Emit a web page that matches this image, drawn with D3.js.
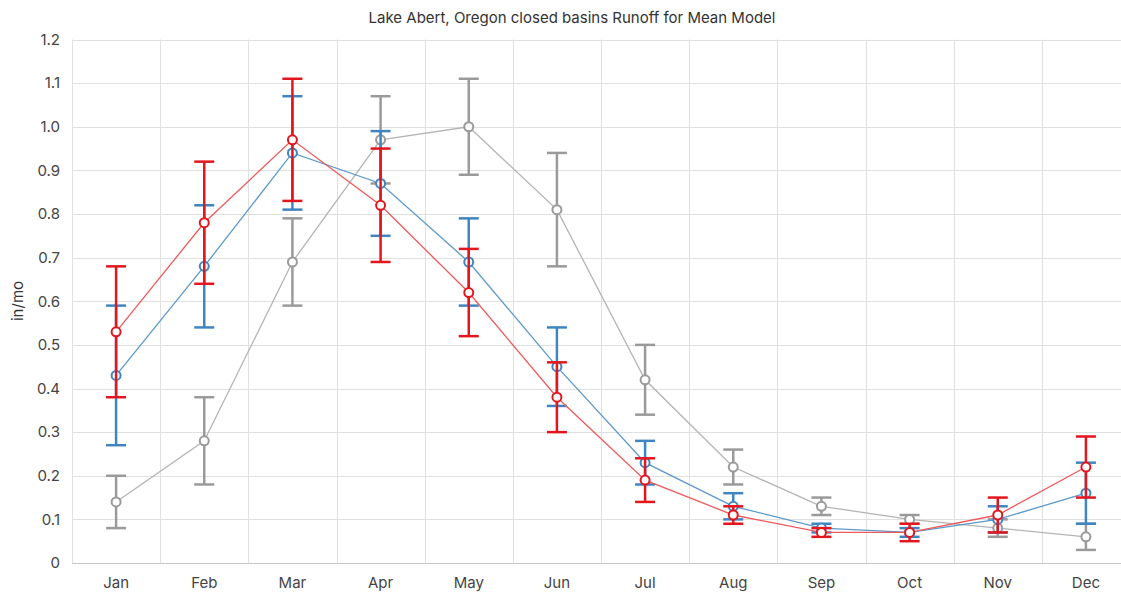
<!DOCTYPE html>
<html><head><meta charset="utf-8">
<script src="https://cdn.jsdelivr.net/npm/d3@7"></script>
<style>body{margin:0;background:#fff;}svg{display:block;font-family:Inter,Roboto,sans-serif;}</style>
</head><body><svg id="c" width="1121" height="593"></svg>
<script>
const months = ["Jan","Feb","Mar","Apr","May","Jun","Jul","Aug","Sep","Oct","Nov","Dec"];
const yTicks = [0,0.1,0.2,0.3,0.4,0.5,0.6,0.7,0.8,0.9,1.0,1.1,1.2];
const title = "Lake Abert, Oregon closed basins Runoff for Mean Model";
const yLabel = "in/mo";

const grayMean = [0.14,0.28,0.69,0.97,1.00,0.81,0.42,0.22,0.13,0.10,0.08,0.06];
const grayLow  = [0.08,0.18,0.59,0.87,0.89,0.68,0.34,0.18,0.11,0.09,0.06,0.03];
const grayHigh = [0.20,0.38,0.79,1.07,1.11,0.94,0.50,0.26,0.15,0.11,0.10,0.09];

const blueMean = [0.43,0.68,0.94,0.87,0.69,0.45,0.23,0.13,0.08,0.07,0.10,0.16];
const blueLow  = [0.27,0.54,0.81,0.75,0.59,0.36,0.18,0.10,0.07,0.06,0.07,0.09];
const blueHigh = [0.59,0.82,1.07,0.99,0.79,0.54,0.28,0.16,0.09,0.08,0.13,0.23];

const redMean = [0.53,0.78,0.97,0.82,0.62,0.38,0.19,0.11,0.07,0.07,0.11,0.22];
const redLow  = [0.38,0.64,0.83,0.69,0.52,0.30,0.14,0.09,0.06,0.05,0.07,0.15];
const redHigh = [0.68,0.92,1.11,0.95,0.72,0.46,0.24,0.13,0.08,0.09,0.15,0.29];

const series = [
  {mean: grayMean, low: grayLow, high: grayHigh, line: "#b4b4b4", bar: "#9a9a9a"},
  {mean: blueMean, low: blueLow, high: blueHigh, line: "#5b98cc", bar: "#3f85c2"},
  {mean: redMean,  low: redLow,  high: redHigh,  line: "#ec5a5a", bar: "#e3161e"}
];

const svg = d3.select("#c");
const pLeft = 72, pRight = 1130, pTop = 39.5, pBottom = 563;
const x = d3.scaleBand().domain(months).range([pLeft, pRight]);
const y = d3.scaleLinear().domain([0, 1.2]).range([pBottom, pTop]);

// grid
const g = svg.append("g");
g.selectAll("line.h").data(yTicks).join("line")
  .attr("x1", pLeft).attr("x2", pRight)
  .attr("y1", d => Math.round(y(d)) + 0.5).attr("y2", d => Math.round(y(d)) + 0.5)
  .attr("stroke", d => d === 0 ? "#c8c8c8" : "#e0e0e0").attr("stroke-width", 1);
g.selectAll("line.v").data(months).join("line")
  .attr("x1", d => Math.round(x(d)) + 0.5).attr("x2", d => Math.round(x(d)) + 0.5)
  .attr("y1", pTop).attr("y2", pBottom)
  .attr("stroke", "#e0e0e0");

// y axis labels
const yAxis = d3.axisLeft(y).tickValues(yTicks).tickSize(0).tickPadding(12)
  .tickFormat(d => d === 0 ? "0" : d3.format(".1f")(d));
svg.append("g").attr("transform", `translate(${pLeft},0)`).call(yAxis)
  .call(s => s.select(".domain").remove())
  .selectAll("text").attr("font-size", 15).attr("fill", "#444").attr("font-family", "Inter, Roboto, sans-serif");

// x axis labels
const xAxis = d3.axisBottom(x).tickSize(0).tickPadding(14);
svg.append("g").attr("transform", `translate(0,${pBottom})`).call(xAxis)
  .call(s => s.select(".domain").remove())
  .selectAll("text").attr("font-size", 15).attr("fill", "#444").attr("font-family", "Inter, Roboto, sans-serif");

// title & y label
svg.append("text").attr("x", 572).attr("y", 23).attr("text-anchor", "middle")
  .attr("font-size", 15).attr("fill", "#333").text(title);
svg.append("text").attr("transform", "translate(23,301) rotate(-90)").attr("text-anchor", "middle")
  .attr("font-size", 15).attr("fill", "#333").text(yLabel);

const cx = m => x(m) + x.bandwidth() / 2;
const capW = 10;
const line = d3.line().x(d => cx(d.m)).y(d => y(d.v));

series.forEach(s => {
  const pts = months.map((m, i) => ({m, v: s.mean[i], lo: s.low[i], hi: s.high[i]}));
  const sg = svg.append("g");
  sg.append("path").datum(pts).attr("d", line).attr("fill", "none")
    .attr("stroke", s.line).attr("stroke-width", 1.3);
  const eb = sg.selectAll("g.eb").data(pts).join("g");
  eb.append("line").attr("x1", d => cx(d.m)).attr("x2", d => cx(d.m))
    .attr("y1", d => y(d.lo)).attr("y2", d => y(d.hi)).attr("stroke", s.bar).attr("stroke-width", 2.5);
  eb.append("line").attr("x1", d => cx(d.m) - capW).attr("x2", d => cx(d.m) + capW)
    .attr("y1", d => y(d.lo)).attr("y2", d => y(d.lo)).attr("stroke", s.bar).attr("stroke-width", 2.5);
  eb.append("line").attr("x1", d => cx(d.m) - capW).attr("x2", d => cx(d.m) + capW)
    .attr("y1", d => y(d.hi)).attr("y2", d => y(d.hi)).attr("stroke", s.bar).attr("stroke-width", 2.5);
  sg.selectAll("circle").data(pts).join("circle")
    .attr("cx", d => cx(d.m)).attr("cy", d => y(d.v)).attr("r", 4.5)
    .attr("fill", "#fff").attr("stroke", s.bar).attr("stroke-width", 2);
});
</script></body></html>
